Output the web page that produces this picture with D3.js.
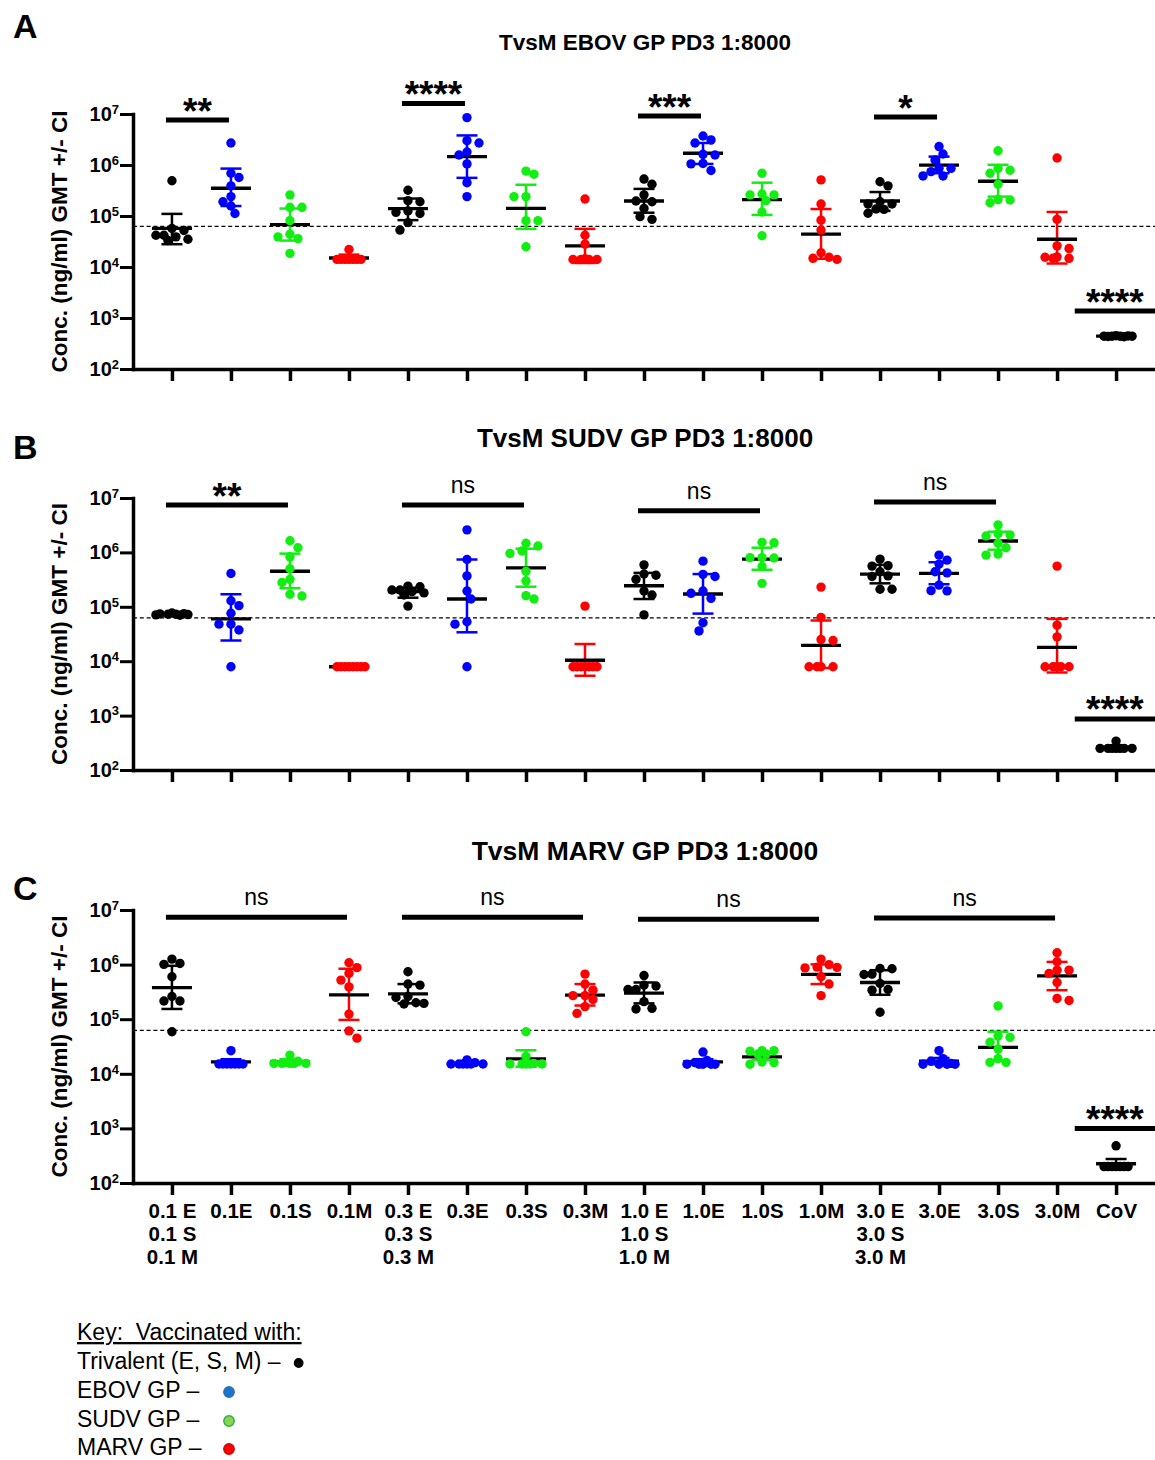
<!DOCTYPE html>
<html>
<head>
<meta charset="utf-8">
<script src="https://cdn.jsdelivr.net/npm/d3@7"></script>
<style>
  html, body { margin: 0; padding: 0; background: #fff; }
  svg { display: block; font-family: "Liberation Sans", Arial, Helvetica, sans-serif; }
</style>
</head>
<body>
<svg id="fig" width="1155" height="1460"></svg>
<script>
// ---------- groups (x axis) ----------
const groupLabels = [
  ["0.1 E", "0.1 S", "0.1 M"], ["0.1E"], ["0.1S"], ["0.1M"],
  ["0.3 E", "0.3 S", "0.3 M"], ["0.3E"], ["0.3S"], ["0.3M"],
  ["1.0 E", "1.0 S", "1.0 M"], ["1.0E"], ["1.0S"], ["1.0M"],
  ["3.0 E", "3.0 S", "3.0 M"], ["3.0E"], ["3.0S"], ["3.0M"],
  ["CoV"]
];
const groupVaccine = [
  "tri", "ebov", "sudv", "marv", "tri", "ebov", "sudv", "marv",
  "tri", "ebov", "sudv", "marv", "tri", "ebov", "sudv", "marv", "cov"
];
const decadeTicks = [1e2, 1e3, 1e4, 1e5, 1e6, 1e7];
const detectionLimit = 62500;

// ---------- EBOV GP ELISA (ng/ml) ----------
const ebovValues = [
  [4.9e5, 5.7e4, 5.2e4, 4.2e4, 4.2e4, 3.9e4, 3.5e4, 3.3e4],
  [2.7e6, 6.9e5, 5.7e5, 3.9e5, 2.4e5, 1.9e5, 1.57e5, 1.12e5],
  [2.6e5, 1.48e5, 1.48e5, 8.1e4, 4.4e4, 3.9e4, 3.6e4, 1.85e4],
  [2.2e4, 1.41e4, 1.41e4, 1.41e4, 1.41e4, 1.41e4, 1.41e4, 1.41e4],
  [3.2e5, 2.0e5, 1.9e5, 1.26e5, 1.18e5, 1.12e5, 7.4e4, 5.3e4],
  [8.5e6, 3.0e6, 2.7e6, 1.8e6, 1.57e6, 1.05e6, 4.5e5, 2.4e5],
  [7.6e5, 6.6e5, 2.4e5, 2.4e5, 8.1e4, 8.1e4, 2.5e4],
  [2.15e5, 4.2e4, 2.8e4, 1.45e4, 1.4e4, 1.4e4, 1.4e4, 1.4e4],
  [5.3e5, 4.2e5, 2.6e5, 1.97e5, 1.9e5, 1.41e5, 9.7e4, 8.6e4],
  [3.7e6, 3.1e6, 2.7e6, 1.62e6, 1.57e6, 1.07e6, 1.05e6, 7.8e5],
  [6.9e5, 2.7e5, 2.6e5, 2.6e5, 2.0e5, 1.2e5, 4.1e4],
  [5.1e5, 1.72e5, 8.3e4, 5.3e4, 1.9e4, 1.55e4, 1.48e4, 1.41e4],
  [4.7e5, 3.9e5, 1.9e5, 1.72e5, 1.72e5, 1.37e5, 1.35e5, 1.13e5],
  [2.3e6, 1.64e6, 1.26e6, 8.6e5, 8.6e5, 7.4e5, 6.1e5, 6.1e5],
  [1.9e6, 8.6e5, 7.9e5, 6.9e5, 4.2e5, 2.1e5, 2.06e5, 1.82e5],
  [1.37e6, 8.6e4, 2.6e4, 2.3e4, 1.58e4, 1.55e4, 1.48e4, 1.48e4],
  [450, 445, 440, 440, 440, 440, 435, 430]
];
const ebovGmt  = [5.7e4, 3.5e5, 6.8e4, 1.5e4, 1.39e5, 1.46e6, 1.41e5, 2.6e4, 1.97e5, 1.7e6, 2.1e5, 4.4e4, 1.97e5, 9.9e5, 4.8e5, 3.5e4, 440];
const ebovLow  = [2.8e4, 1.57e5, 3.3e4, 1.3e4, 8.3e4, 5.6e5, 5.6e4, 1.2e4, 1.16e5, 1.05e6, 1.05e5, 1.45e4, 1.26e5, 6.9e5, 2.4e5, 1.17e4, 430];
const ebovHigh = [1.1e5, 8.5e5, 1.4e5, 1.75e4, 2.2e5, 3.8e6, 4.1e5, 5.6e4, 3.4e5, 2.7e6, 4.5e5, 1.37e5, 2.95e5, 1.46e6, 1.01e6, 1.2e5, 450];
const ebovSig = [
  { from: 0, to: 1, label: "**", level: 7.6e6 },
  { from: 4, to: 5, label: "****", level: 1.6e7 },
  { from: 8, to: 9, label: "***", level: 9.1e6 },
  { from: 12, to: 13, label: "*", level: 8.7e6 },
  { from: 16, to: 16, label: "****", level: 1.37e3 }
];

// ---------- SUDV GP ELISA (ng/ml) ----------
const sudvValues = [
  [7.7e4, 7.5e4, 7.4e4, 7.3e4, 7.3e4, 7.2e4, 7.1e4, 7.0e4],
  [4.1e5, 1.29e5, 1.05e5, 7.6e4, 4.8e4, 4.8e4, 3.75e4, 7.9e3],
  [1.64e6, 1.22e6, 8.3e5, 5.0e5, 3.2e5, 2.8e5, 1.7e5, 1.58e5],
  [7.9e3, 7.9e3, 7.9e3, 7.9e3, 7.9e3, 7.9e3, 7.9e3, 7.9e3],
  [2.4e5, 2.34e5, 2.04e5, 2.04e5, 1.9e5, 1.8e5, 1.65e5, 1.03e5],
  [2.6e6, 7.4e5, 3.7e5, 1.95e5, 1.39e5, 5.3e4, 4.8e4, 7.9e3],
  [1.47e6, 1.31e6, 1.06e6, 9.6e5, 4.5e5, 3.0e5, 1.6e5, 1.39e5],
  [1.03e5, 7.9e3, 7.9e3, 7.9e3, 7.9e3, 7.9e3, 7.9e3, 7.9e3],
  [5.9e5, 4.0e5, 3.8e5, 3.2e5, 1.95e5, 1.65e5, 7.1e4],
  [6.9e5, 3.95e5, 3.6e5, 1.95e5, 1.77e5, 1.43e5, 5.1e4, 3.6e4],
  [1.53e6, 1.5e6, 8.0e5, 8.0e5, 7.9e5, 5.5e5, 2.7e5],
  [2.3e5, 6.4e4, 2.5e4, 2.4e4, 7.9e3, 7.9e3, 7.9e3, 7.9e3],
  [7.5e5, 5.7e5, 5.6e5, 4.4e5, 3.7e5, 3.6e5, 2.1e5, 2.1e5],
  [8.9e5, 7.2e5, 6.1e5, 4.4e5, 4.2e5, 2.5e5, 1.98e5, 1.96e5],
  [3.2e6, 2.2e6, 2.1e6, 2.0e6, 1.47e6, 1.22e6, 9.3e5, 8.9e5],
  [5.6e5, 4.6e4, 2.8e4, 7.9e3, 7.9e3, 7.9e3, 7.9e3, 7.9e3],
  [340, 250, 250, 250, 250, 250, 250, 250]
];
const sudvGmt  = [7.3e4, 6.0e4, 4.5e5, 7.9e3, 1.9e5, 1.39e5, 5.2e5, 1.04e4, 2.44e5, 1.72e5, 7.5e5, 1.95e4, 4.0e5, 4.1e5, 1.62e6, 1.8e4, 262];
const sudvLow  = [7.1e4, 2.4e4, 2.2e5, 7.9e3, 1.47e5, 3.4e4, 2.34e5, 5.4e3, 1.39e5, 7.5e4, 4.8e5, 7.5e3, 2.7e5, 2.6e5, 1.12e6, 6.2e3, 245];
const sudvHigh = [7.5e4, 1.7e5, 9.5e5, 7.9e3, 2.24e5, 7.4e5, 1.17e6, 2.07e4, 4.2e5, 4.0e5, 1.22e6, 5.6e4, 5.9e5, 6.6e5, 2.4e6, 6.0e4, 280];
const sudvSig = [
  { from: 0, to: 2, label: "**", level: 7.4e6 },
  { from: 4, to: 6, label: "ns", level: 7.4e6 },
  { from: 8, to: 10, label: "ns", level: 5.8e6 },
  { from: 12, to: 14, label: "ns", level: 8.4e6 },
  { from: 16, to: 16, label: "****", level: 8.7e2 }
];

// ---------- MARV GP ELISA (ng/ml) ----------
const marvValues = [
  [1.26e6, 1.05e6, 1.01e6, 6.0e5, 2.6e5, 2.15e5, 2.15e5, 5.9e4],
  [2.65e4, 1.51e4, 1.51e4, 1.51e4, 1.51e4, 1.51e4, 1.51e4, 1.51e4],
  [2.2e4, 1.7e4, 1.6e4, 1.55e4, 1.55e4, 1.55e4, 1.55e4, 1.55e4],
  [1.08e6, 8.8e5, 6.9e5, 5.2e5, 3.9e5, 1.24e5, 6.1e4, 4.5e4],
  [7.4e5, 4.4e5, 4.2e5, 2.6e5, 2.5e5, 2.0e5, 1.95e5, 1.9e5],
  [1.8e4, 1.6e4, 1.51e4, 1.51e4, 1.51e4, 1.51e4, 1.51e4, 1.51e4],
  [5.9e4, 2.1e4, 1.55e4, 1.51e4, 1.51e4, 1.51e4, 1.51e4, 1.51e4],
  [6.7e5, 4.4e5, 3.4e5, 2.7e5, 2.7e5, 2.3e5, 1.7e5, 1.28e5],
  [6.3e5, 4.2e5, 4.05e5, 3.5e5, 3.5e5, 2.1e5, 1.58e5, 1.54e5],
  [2.5e4, 1.75e4, 1.6e4, 1.5e4, 1.5e4, 1.5e4, 1.5e4, 1.5e4],
  [2.65e4, 2.65e4, 2.6e4, 2.3e4, 2.3e4, 1.65e4, 1.6e4, 1.5e4],
  [1.26e6, 1.0e6, 9.0e5, 8.9e5, 8.7e5, 6.0e5, 4.4e5, 2.7e5],
  [8.5e5, 8.4e5, 6.7e5, 6.6e5, 4.5e5, 3.5e5, 3.4e5, 1.34e5],
  [2.65e4, 1.9e4, 1.7e4, 1.55e4, 1.5e4, 1.5e4, 1.5e4, 1.5e4],
  [1.75e5, 4.9e4, 4.65e4, 3.8e4, 2.85e4, 1.9e4, 1.62e4, 1.62e4],
  [1.65e6, 1.13e6, 7.9e5, 7.9e5, 6.9e5, 4.7e5, 2.4e5, 2.2e5],
  [480, 200, 200, 200, 200, 200, 200, 200]
];
const marvGmt  = [3.8e5, 1.65e4, 1.65e4, 2.8e5, 2.9e5, 1.55e4, 1.87e4, 2.75e5, 3.0e5, 1.65e4, 2.05e4, 6.6e5, 4.7e5, 1.7e4, 3.05e4, 6.2e5, 225];
const marvLow  = [1.54e5, 1.45e4, 1.45e4, 9.7e4, 1.95e5, 1.45e4, 1.35e4, 1.78e5, 1.95e5, 1.45e4, 1.78e4, 4.4e5, 2.8e5, 1.5e4, 1.74e4, 3.4e5, 190];
const marvHigh = [9.5e5, 1.85e4, 1.85e4, 8.4e5, 4.4e5, 1.65e4, 2.7e4, 4.4e5, 4.7e5, 1.85e4, 2.43e4, 1.01e6, 7.9e5, 1.95e4, 5.9e4, 1.12e6, 275];
const marvSig = [
  { from: 0, to: 3, label: "ns", level: 7.4e6 },
  { from: 4, to: 7, label: "ns", level: 7.4e6 },
  { from: 8, to: 11, label: "ns", level: 6.8e6 },
  { from: 12, to: 15, label: "ns", level: 7.1e6 },
  { from: 16, to: 16, label: "****", level: 1.0e3 }
];

// ---------- key ----------
const keyLabels = ["Trivalent (E, S, M) \u2013", "EBOV GP \u2013", "SUDV GP \u2013", "MARV GP \u2013"];
const keyFill   = ["#000000", "#1f74c8", "#92d050", "#ff0000"];
const keyStroke = ["#000000", "#2a6fb8", "#1fb24a", "#d40000"];

// ---------- drawing ----------
const vaccineColor = { tri: "#000000", ebov: "#0000ff", sudv: "#12ee12", marv: "#ff0000", cov: "#000000" };
const svg = d3.select("#fig");
const AXIS_LEFT = 133, AXIS_RIGHT = 1155;
const x = d3.scalePoint()
  .domain(d3.range(groupLabels.length))
  .range([AXIS_LEFT, AXIS_RIGHT])
  .padding(0.66);
const R = 4.7;        // dot radius
const SPREAD = 16;    // widest horizontal scatter of a column

// horizontal scatter of a column so that dots of similar value sit side by side
function swarmOffsets(ys) {
  const step = SPREAD / 4;
  const minD = 2 * R * 0.9;
  const order = d3.range(ys.length).sort((a, b) => ys[a] - ys[b]);
  const placed = [];
  const offs = new Array(ys.length).fill(0);
  let side = 1;
  for (const i of order) {
    const cands = [0];
    for (let k = 1; k <= 4; k++) cands.push(side * k * step, -side * k * step);
    let chosen = null, fallback = 0, bestD = -1;
    for (const c of cands) {
      let md = Infinity;
      for (const p of placed) md = Math.min(md, Math.hypot(p.x - c, p.y - ys[i]));
      if (md >= minD) { chosen = c; break; }
      if (md > bestD + 1e-9) { bestD = md; fallback = c; }
    }
    if (chosen === null) chosen = fallback;
    if (chosen !== 0) side = chosen > 0 ? -1 : 1;
    offs[i] = chosen;
    placed.push({ x: chosen, y: ys[i] });
  }
  return offs;
}

const panels = [
  { letter: "A", letterY: 38, title: "TvsM EBOV GP PD3 1:8000", titleY: 50, titleSize: 22.5,
    top: 114, bottom: 369, values: ebovValues, gmt: ebovGmt, low: ebovLow, high: ebovHigh, sig: ebovSig, labels: false },
  { letter: "B", letterY: 459, title: "TvsM SUDV GP PD3 1:8000", titleY: 447, titleSize: 26,
    top: 498, bottom: 770, values: sudvValues, gmt: sudvGmt, low: sudvLow, high: sudvHigh, sig: sudvSig, labels: false },
  { letter: "C", letterY: 900, title: "TvsM MARV GP PD3 1:8000", titleY: 860, titleSize: 26.5,
    top: 910, bottom: 1183, values: marvValues, gmt: marvGmt, low: marvLow, high: marvHigh, sig: marvSig, labels: true }
];

panels.forEach(p => {
  const y = d3.scaleLog().domain([1e2, 1e7]).range([p.bottom, p.top]);
  const g = svg.append("g");

  g.append("text").attr("x", 13).attr("y", p.letterY)
    .attr("font-size", 34).attr("font-weight", "bold").text(p.letter);

  g.append("text").attr("x", 645).attr("y", p.titleY).attr("text-anchor", "middle")
    .attr("font-size", p.titleSize).attr("font-weight", "bold").text(p.title);

  const midY = (p.top + p.bottom) / 2;
  g.append("text").attr("transform", `translate(67,${midY}) rotate(-90)`)
    .attr("text-anchor", "middle").attr("font-size", 22.5).attr("font-weight", "bold")
    .text("Conc. (ng/ml) GMT +/- CI");

  // detection limit
  g.append("line").attr("x1", AXIS_LEFT).attr("x2", AXIS_RIGHT)
    .attr("y1", y(detectionLimit)).attr("y2", y(detectionLimit))
    .attr("stroke", "#000").attr("stroke-width", 1.4).attr("stroke-dasharray", "4,2.8");

  // y axis
  const yAxis = g.append("g").attr("transform", `translate(${AXIS_LEFT},0)`)
    .call(d3.axisLeft(y).tickValues(decadeTicks).tickSizeInner(13).tickSizeOuter(0).tickPadding(1));
  yAxis.select(".domain").attr("stroke-width", 3.5).attr("stroke-linecap", "square");
  yAxis.selectAll(".tick line").attr("stroke-width", 3);
  yAxis.selectAll(".tick text").each(function (d) {
    const t = d3.select(this).text("").attr("font-size", 20).attr("font-weight", "bold")
      .attr("font-family", null).attr("fill", "#000");
    t.append("tspan").text("10");
    t.append("tspan").attr("font-size", 13).attr("dy", "-0.55em").text(Math.round(Math.log10(d)));
  });

  // x axis
  const xAxis = g.append("g").attr("transform", `translate(0,${p.bottom})`)
    .call(d3.axisBottom(x).tickSizeInner(12).tickSizeOuter(0).tickFormat(() => ""));
  xAxis.select(".domain").attr("stroke-width", 3.5).attr("stroke-linecap", "square");
  xAxis.selectAll(".tick line").attr("stroke-width", 3.5);
  if (p.labels) {
    xAxis.selectAll(".tick text").remove();
    xAxis.selectAll(".tick").append("text")
      .attr("text-anchor", "middle").attr("fill", "#000")
      .attr("font-size", 20.5).attr("font-weight", "bold")
      .each(function (i) {
        const t = d3.select(this);
        groupLabels[i].forEach((line, k) => {
          t.append("tspan").attr("x", 0).attr("y", 35 + k * 23).text(line);
        });
      });
  }

  // significance bars
  const step = x.step();
  p.sig.forEach(s => {
    const by = y(s.level);
    const x1 = s.from === s.to ? x(s.from) - 0.7 * step : x(s.from) - 6;
    const x2 = s.from === s.to ? Math.min(AXIS_RIGHT, x(s.to) + 0.7 * step) : x(s.to) - 2;
    g.append("line").attr("x1", x1).attr("x2", x2).attr("y1", by).attr("y2", by)
      .attr("stroke", "#000").attr("stroke-width", 5);
    const stars = s.label.includes("*");
    g.append("text").attr("x", (x1 + x2) / 2).attr("y", stars ? by + 3.5 : by - 12)
      .attr("text-anchor", "middle")
      .attr("font-size", stars ? 37 : 23).attr("font-weight", stars ? "bold" : "normal")
      .text(s.label);
  });

  // GMT and 95% CI per column
  p.values.forEach((vals, i) => {
    const cx = x(i);
    const col = vaccineColor[groupVaccine[i]];
    const eb = g.append("g").attr("stroke", col).attr("stroke-width", 2.5);
    eb.append("line").attr("x1", cx).attr("x2", cx).attr("y1", y(p.low[i])).attr("y2", y(p.high[i]));
    [p.low[i], p.high[i]].forEach(v => {
      eb.append("line").attr("x1", cx - 10.5).attr("x2", cx + 10.5).attr("y1", y(v)).attr("y2", y(v));
    });
    g.append("line").attr("x1", cx - 20).attr("x2", cx + 20)
      .attr("y1", y(p.gmt[i])).attr("y2", y(p.gmt[i]))
      .attr("stroke", "#000").attr("stroke-width", 3.3);
  });

  // individual animals
  p.values.forEach((vals, i) => {
    const ys = vals.map(v => y(v));
    const offs = swarmOffsets(ys);
    g.append("g").attr("fill", vaccineColor[groupVaccine[i]])
      .selectAll("circle").data(vals).join("circle")
      .attr("cx", (v, k) => x(i) + offs[k])
      .attr("cy", (v, k) => ys[k])
      .attr("r", R);
  });
});

// ---------- key ----------
const key = svg.append("g").attr("font-size", 23);
key.append("text").attr("x", 77).attr("y", 1340)
  .attr("text-decoration", "underline").style("white-space", "pre")
  .text("Key:  Vaccinated with:");
const rowY = [1369, 1398, 1427, 1455];
keyLabels.forEach((lab, k) => {
  const t = key.append("text").attr("x", 77).attr("y", rowY[k]).text(lab);
  const end = 77 + t.node().getComputedTextLength();
  const cx = Math.max(229, end + 18);
  key.append("circle").attr("cx", cx).attr("cy", rowY[k] - 6)
    .attr("r", k === 0 ? 4.2 : 5.2)
    .attr("fill", keyFill[k]).attr("stroke", keyStroke[k]).attr("stroke-width", 1.4);
});
</script>
</body>
</html>
